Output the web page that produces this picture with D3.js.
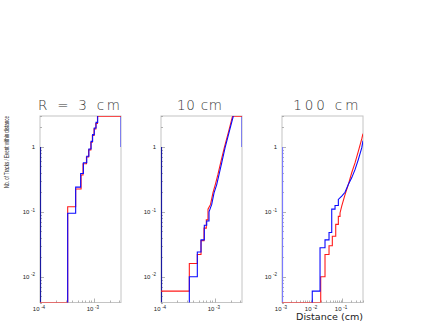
<!DOCTYPE html>
<html><head><meta charset="utf-8">
<script src="https://cdn.jsdelivr.net/npm/d3@7"></script>
<style>body{margin:0;background:#fff}svg{display:block}</style>
</head><body>
<script>
// ---------- data ----------
const titles = ["R = 3 cm", "10 cm", "100 cm"];
const xDomains = [[1e-4, 3.2e-3], [1e-4, 3.2e-3], [1e-3, 0.5]];
const xTickValues = [[1e-4, 1e-3], [1e-4, 1e-3], [1e-3, 1e-2, 1e-1]];
const yDomain = [0.004, 3];
const yTickValues = [1, 0.1, 0.01];
const yTitle = "Nb. of Tracks / Event within distance";
const xTitle = "Distance (cm)";

// panel 1 (R = 3 cm)
const p1BlueEdges  = [3.27e-4, 4.6e-4, 5.7e-4, 6.4e-4, 7.4e-4, 8.1e-4, 8.9e-4, 9.5e-4, 1.02e-3, 1.10e-3, 1.18e-3];
const p1BlueValues = [0.095, 0.24, 0.39, 0.57, 0.72, 0.93, 1.22, 1.55, 1.96, 2.39, 3.5];
const p1RedEdges   = [3.27e-4, 4.6e-4, 5.8e-4, 6.3e-4, 7.3e-4, 8.0e-4, 8.8e-4, 9.4e-4, 1.01e-3, 1.09e-3, 1.17e-3];
const p1RedValues  = [0.12, 0.225, 0.37, 0.55, 0.70, 0.90, 1.18, 1.5, 1.9, 2.3, 2.98];

// panel 2 (10 cm)
const p2BlueEdges  = [3.36e-4, 4.73e-4, 5.54e-4, 6.38e-4, 7.07e-4, 7.8e-4];
const p2BlueValues = [0.01, 0.024, 0.037, 0.062, 0.072, 0.10];
const p2BlueTailX  = [8.76e-4, 9.67e-4, 1.085e-3, 1.197e-3, 1.343e-3, 1.548e-3, 1.86e-3, 2.207e-3, 2.37e-3];
const p2BlueTailV  = [0.13, 0.196, 0.263, 0.375, 0.57, 0.965, 1.74, 3.0, 3.5];
const p2RedEdges   = [3.36e-4, 4.73e-4, 5.54e-4, 6.30e-4, 6.95e-4, 7.47e-4];
const p2RedValues  = [0.016, 0.022, 0.036, 0.056, 0.075, 0.11];
const p2RedTailX   = [8.32e-4, 9.27e-4, 1.030e-3, 1.146e-3, 1.288e-3, 1.502e-3, 1.813e-3, 2.133e-3];
const p2RedTailV   = [0.13, 0.20, 0.27, 0.38, 0.58, 0.98, 1.76, 2.98];

// panel 3 (100 cm)
const p3BlueEdges  = [0.0102, 0.0185, 0.0271, 0.0369, 0.0454, 0.0585, 0.0754];
const p3BlueValues = [0.006, 0.028, 0.037, 0.048, 0.11, 0.125, 0.155];
const p3BlueTailX  = [0.0977, 0.126, 0.162, 0.210, 0.271, 0.349, 0.454, 0.5];
const p3BlueTailV  = [0.175, 0.20, 0.263, 0.334, 0.447, 0.638, 0.965, 1.25];
const p3RedEdges   = [0.0195, 0.0271, 0.0369, 0.0475, 0.0617, 0.0754, 0.0858];
const p3RedValues  = [0.01, 0.022, 0.030, 0.042, 0.064, 0.085, 0.096];
const p3RedTailX   = [0.0977, 0.126, 0.162, 0.210, 0.271, 0.349, 0.454, 0.5];
const p3RedTailV   = [0.122, 0.184, 0.263, 0.40, 0.567, 0.855, 1.33, 1.6];

const series = [
  [ {color:"#ff1a1a", start:0.004, edges:p1RedEdges, values:p1RedValues, tx:[], tv:[], extend:true},
    {color:"#0a0aff", start:null, edges:p1BlueEdges, values:p1BlueValues, tx:[], tv:[], extend:true} ],
  [ {color:"#ff1a1a", start:0.006, edges:p2RedEdges, values:p2RedValues, tx:p2RedTailX, tv:p2RedTailV, extend:true},
    {color:"#0a0aff", start:null, edges:p2BlueEdges, values:p2BlueValues, tx:p2BlueTailX, tv:p2BlueTailV, extend:false} ],
  [ {color:"#ff1a1a", start:0.004, edges:p3RedEdges, values:p3RedValues, tx:p3RedTailX, tv:p3RedTailV, extend:false},
    {color:"#0a0aff", start:null, edges:p3BlueEdges, values:p3BlueValues, tx:p3BlueTailX, tv:p3BlueTailV, extend:false} ]
];
const edgeLevel = 1;
const rightEdgeMark = [true, true, false];

// ---------- layout ----------
const W = 436, H = 327;
const panelLeft = [40, 161, 282], panelW = 81;
const plotTop = 116, plotBottom = 302.5;

const svg = d3.select("body").append("svg").attr("width", W).attr("height", H);

const y = d3.scaleLog().domain(yDomain).range([plotBottom, plotTop]);

function supLabel(sel, v) {
  sel.each(function() {
    const t = d3.select(this);
    const e = Math.round(Math.log10(v));
    if (e === 0) { t.text("1"); return; }
    t.append("tspan").text("10");
    t.append("tspan").attr("dy", -2.2).attr("dx", 1.6).attr("font-size", 4.5).text("-" + Math.abs(e));
  });
}

panelLeft.forEach((L, i) => {
  const x = d3.scaleLog().domain(xDomains[i]).range([L, L + panelW]);
  const g = svg.append("g");
  const cid = "clip" + i;
  svg.append("clipPath").attr("id", cid).append("rect")
    .attr("x", L).attr("y", plotTop).attr("width", panelW).attr("height", plotBottom - plotTop);

  // frame
  g.append("rect").attr("x", L).attr("y", plotTop).attr("width", panelW).attr("height", plotBottom - plotTop)
    .attr("fill", "none").attr("stroke", "#c4c4c4").attr("stroke-width", 1);

  // y ticks (inside, left)
  const [y0, y1] = yDomain;
  const yt = [];
  for (let e = Math.floor(Math.log10(y0)); e <= Math.ceil(Math.log10(y1)); e++) {
    for (let m = 1; m < 10; m++) { const v = m * Math.pow(10, e); if (v >= y0 && v <= y1) yt.push({v, major: m === 1}); }
  }
  g.selectAll(".yt").data(yt).join("line")
    .attr("x1", L).attr("x2", d => L + (d.major ? 4 : 2))
    .attr("y1", d => Math.round(y(d.v)) + 0.5).attr("y2", d => Math.round(y(d.v)) + 0.5)
    .attr("stroke", "#a0a0a0").attr("stroke-width", 0.8);

  // x ticks (inside, bottom)
  const [x0, x1] = xDomains[i];
  const xt = [];
  for (let e = Math.floor(Math.log10(x0)); e <= Math.ceil(Math.log10(x1)); e++) {
    for (let m = 1; m < 10; m++) { const v = m * Math.pow(10, e); if (v >= x0 * 0.999 && v <= x1) xt.push({v, major: m === 1}); }
  }
  g.selectAll(".xt").data(xt).join("line")
    .attr("x1", d => Math.round(x(d.v)) + 0.5).attr("x2", d => Math.round(x(d.v)) + 0.5)
    .attr("y1", plotBottom).attr("y2", d => plotBottom - (d.major ? 4 : 2))
    .attr("stroke", "#a0a0a0").attr("stroke-width", 0.8);

  // y labels
  yTickValues.forEach(v => {
    g.append("text").attr("x", L - 5).attr("y", y(v) + 2).attr("text-anchor", "end")
      .attr("font-family", "Liberation Sans, Arial, sans-serif").attr("font-size", 6).attr("fill", "#222")
      .call(supLabel, v);
  });
  // x labels
  xTickValues[i].forEach(v => {
    g.append("text").attr("x", x(v) - 1).attr("y", plotBottom + 8.5).attr("text-anchor", "middle")
      .attr("font-family", "Liberation Sans, Arial, sans-serif").attr("font-size", 6).attr("fill", "#222")
      .call(supLabel, v);
  });

  // title
  const tw = [82, 45, 65][i];
  const tc = [79, 199.5, 325.8][i];
  g.append("text").attr("x", tc - tw / 2).attr("y", 110)
    .attr("font-family", "DejaVu Sans, sans-serif").attr("font-weight", 200).attr("font-size", 13.5)
    .attr("fill", "#333").attr("textLength", tw).attr("lengthAdjust", "spacing").text(titles[i]);

  // blue edge marks
  const clipped = g.append("g").attr("clip-path", `url(#${cid})`);
  clipped.append("line").attr("x1", L + 0.5).attr("x2", L + 0.5).attr("y1", plotBottom).attr("y2", y(edgeLevel))
    .attr("stroke", i < 2 ? "#1a1aa0" : "#7a7aff").attr("stroke-width", 1.2);
  if (rightEdgeMark[i]) {
    clipped.append("line").attr("x1", L + panelW - 0.3).attr("x2", L + panelW - 0.3).attr("y1", plotTop).attr("y2", y(edgeLevel))
      .attr("stroke", "#7a7af0").attr("stroke-width", 1.3);
  }

  // histograms
  series[i].forEach(s => {
    let d;
    if (s.start !== null) d = `M${x(x0)},${y(s.start)}`;
    else d = `M${x(s.edges[0])},${y(yDomain[0]) + 2}`;
    s.edges.forEach((e, k) => {
      d += `H${x(e)}V${y(s.values[k])}`;
    });
    s.tx.forEach((tx, k) => { d += `L${x(tx)},${y(s.tv[k])}`; });
    if (s.extend) d += `H${x(x1) + 2}`;
    clipped.append("path").attr("d", d).attr("fill", "none").attr("stroke", s.color).attr("stroke-width", 1.1);
  });
});

// axis titles
svg.append("text").attr("transform", `translate(9,${152}) rotate(-90)`).attr("text-anchor", "middle")
  .attr("font-family", "Liberation Sans, Arial, sans-serif").attr("font-size", 8).attr("fill", "#222")
  .attr("textLength", 72).attr("lengthAdjust", "spacingAndGlyphs").text(yTitle);

svg.append("text").attr("x", 296).attr("y", 319.5)
  .attr("font-family", "DejaVu Sans, sans-serif").attr("font-size", 9).attr("fill", "#222")
  .attr("textLength", 67).attr("lengthAdjust", "spacingAndGlyphs").text(xTitle);
</script>
</body></html>
